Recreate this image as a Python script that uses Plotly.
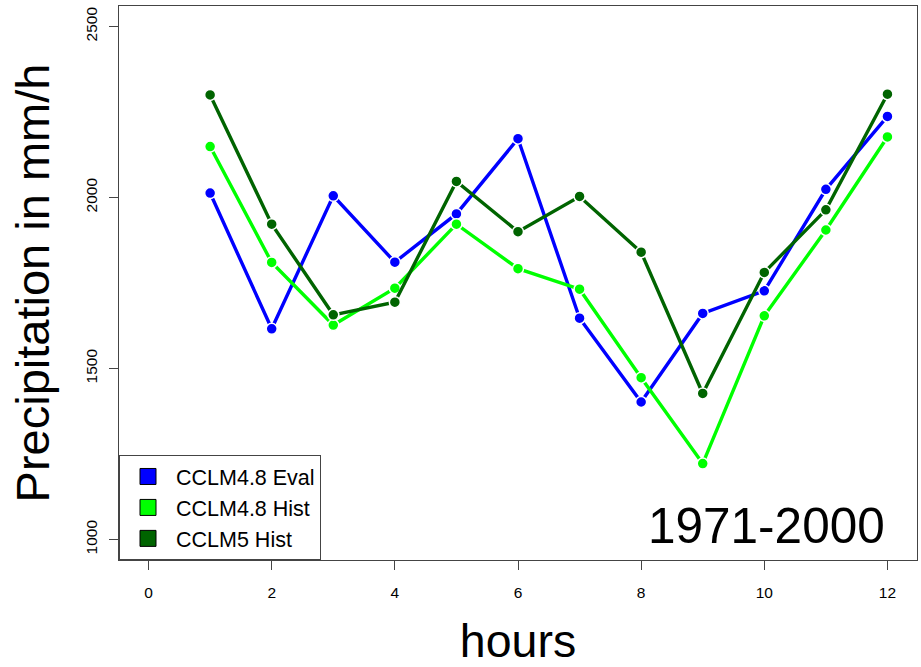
import plotly.graph_objects as go

hours = [1, 2, 3, 4, 5, 6, 7, 8, 9, 10, 11, 12]
cclm48_eval = [2013, 1616, 2005, 1811, 1952, 2172, 1647, 1402, 1661, 1727, 2024, 2237]
cclm48_hist = [2149, 1810, 1627, 1735, 1922, 1792, 1732, 1473, 1222, 1654, 1905, 2177]
cclm5_hist = [2300, 1922, 1657, 1694, 2047, 1900, 2003, 1840, 1427, 1781, 1964, 2302]

series_names = ["CCLM4.8 Eval", "CCLM4.8 Hist", "CCLM5 Hist"]
series_colors = ["#0000FF", "#00FF00", "#006400"]
series_values = [cclm48_eval, cclm48_hist, cclm5_hist]

x_ticks = [0, 2, 4, 6, 8, 10, 12]
y_ticks = [1000, 1500, 2000, 2500]
period_label = "1971-2000"

fig = go.Figure()
for name, color, vals in zip(series_names, series_colors, series_values):
    fig.add_trace(go.Scatter(
        x=hours, y=vals, mode="lines+markers", name=name, showlegend=False,
        line=dict(color=color, width=3.4),
        marker=dict(color=color, size=11, line=dict(color="white", width=1.5)),
    ))
for name, color in zip(series_names, series_colors):
    fig.add_trace(go.Scatter(
        x=[None], y=[None], mode="markers", name=name, showlegend=True,
        marker=dict(color=color, symbol="square", size=16, line=dict(color="black", width=1)),
    ))

fig.add_annotation(
    x=12, y=1040, xref="x", yref="y", text=period_label, showarrow=False,
    xanchor="right", yanchor="middle",
    font=dict(family="Liberation Sans, Arial", size=49.5, color="black"),
)

axis_common = dict(
    showline=True, mirror=True, linecolor="#444444", linewidth=1,
    ticks="outside", ticklen=9, tickwidth=1, tickcolor="#444444",
    showgrid=False, zeroline=False,
    tickfont=dict(family="Liberation Sans, Arial", size=15.5, color="black"),
)

fig.update_layout(
    width=921, height=667,
    margin=dict(l=119, r=4, t=6, b=107),
    paper_bgcolor="white", plot_bgcolor="white",
    font=dict(family="Liberation Sans, Arial", color="black"),
    xaxis=dict(
        range=[-0.48, 12.48], tickvals=x_ticks, ticktext=[str(v) for v in x_ticks],
        title=dict(text="hours", font=dict(size=46.5), standoff=25),
        ticklabelstandoff=9,
        **axis_common,
    ),
    yaxis=dict(
        range=[940, 2560], tickvals=y_ticks, ticktext=[str(v) for v in y_ticks],
        tickangle=-90,
        title=dict(text="Precipitation in mm/h", font=dict(size=47), standoff=18),
        ticklabelstandoff=6,
        **axis_common,
    ),
    legend=dict(
        x=0, y=0, xanchor="left", yanchor="bottom",
        bgcolor="white", bordercolor="#444444", borderwidth=1,
        font=dict(family="Liberation Sans, Arial", size=21.5, color="black"),
        itemwidth=46, tracegroupgap=0,
    ),
)

fig.write_html("out.html")
